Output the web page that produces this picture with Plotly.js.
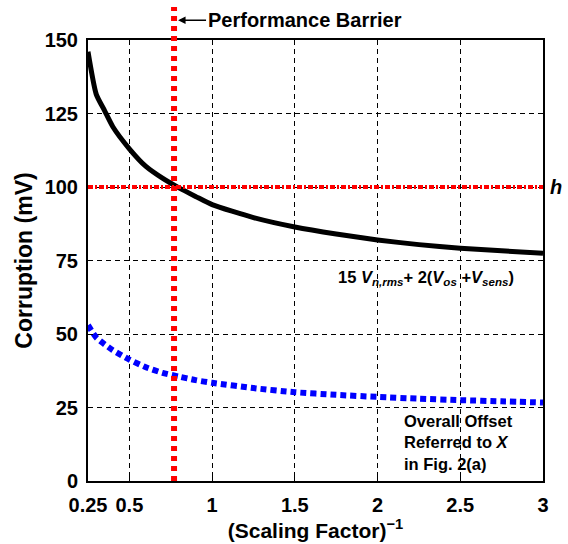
<!DOCTYPE html>
<html>
<head>
<meta charset="utf-8">
<script src="https://cdn.plot.ly/plotly-3.0.1.min.js"></script>
<style>html,body{margin:0;padding:0;background:#fff;}</style>
</head>
<body>
<div id="chart" style="width:568px;height:544px;"></div>
<script>
// ---- data ----
const xBlack = [0.25, 0.3, 0.35, 0.4, 0.5, 0.6, 0.7, 0.8, 0.9, 1, 1.25, 1.5, 1.75, 2, 2.25, 2.5, 2.75, 3];
const yBlack = [146, 131.5, 126, 120.5, 113, 107, 103, 99.7, 96.8, 94, 89.6, 86.4, 84, 82, 80.4, 79.2, 78.3, 77.5];
const xBlue = [0.25, 0.3, 0.35, 0.4, 0.5, 0.6, 0.7, 0.8, 0.9, 1, 1.25, 1.5, 1.75, 2, 2.25, 2.5, 2.75, 3];
const yBlue = [53, 48.8, 46.5, 44.5, 41.3, 38.7, 36.8, 35.5, 34.3, 33.4, 31.6, 30.2, 29.3, 28.6, 28, 27.5, 27.1, 26.7];
const barrierX = 0.77;   // Performance Barrier
const thresholdH = 100;  // h
const xTickVals = [0.25, 0.5, 1, 1.5, 2, 2.5, 3];
const xTickText = ['0.25', '0.5', '1', '1.5', '2', '2.5', '3'];
const yTickVals = [0, 25, 50, 75, 100, 125, 150];

const FONT = 'Liberation Sans, Arial, Helvetica, sans-serif';

const traces = [
  {x: xBlack, y: yBlack, mode: 'lines', line: {color: '#000', width: 5, shape: 'spline', smoothing: 0.6}, hoverinfo: 'skip'},
  {x: xBlue, y: yBlue, mode: 'lines', line: {color: '#0000ff', width: 6, dash: '6px,4px', shape: 'spline', smoothing: 0.6}, hoverinfo: 'skip'}
];

const layout = {
  width: 568, height: 544,
  margin: {l: 88, r: 25, t: 40, b: 63},
  paper_bgcolor: '#fff', plot_bgcolor: '#fff',
  showlegend: false,
  font: {family: FONT, color: '#000', size: 20, weight: 'bold'},
  xaxis: {
    range: [0.25, 3], tickvals: xTickVals, ticktext: xTickText,
    showline: true, linecolor: '#000', linewidth: 2, mirror: 'ticks',
    ticks: 'inside', ticklen: 5, tickcolor: '#000', ticklabelstandoff: 5,
    showgrid: true, gridcolor: '#000', gridwidth: 1, griddash: '5px,4px',
    zeroline: false,
    tickfont: {family: FONT, size: 20, weight: 'bold', color: '#000'},
    title: {text: '(Scaling Factor)<sup>−1</sup>', font: {family: FONT, size: 21, weight: 'bold'}, standoff: 5},
    automargin: false
  },
  yaxis: {
    range: [0, 150], tickvals: yTickVals,
    showline: true, linecolor: '#000', linewidth: 2, mirror: 'ticks',
    ticks: 'inside', ticklen: 5, tickcolor: '#000', ticklabelstandoff: 4,
    showgrid: true, gridcolor: '#000', gridwidth: 1, griddash: '5px,4px',
    zeroline: false,
    tickfont: {family: FONT, size: 20, weight: 'bold', color: '#000'},
    title: {text: 'Corruption (mV)', font: {family: FONT, size: 23, weight: 'bold'}, standoff: 6},
    automargin: false
  },
  shapes: [
    {type: 'line', xref: 'x', yref: 'paper', x0: barrierX, x1: barrierX, y0: 0, y1: 1.075,
     line: {color: '#ff0000', width: 6, dash: '5px,5px'}},
    {type: 'line', xref: 'paper', yref: 'y', x0: 0, x1: 1, y0: thresholdH, y1: thresholdH,
     line: {color: '#ff0000', width: 4, dash: '5px,2px,2px,2px'}}
  ],
  annotations: [
    {xref: 'x', yref: 'paper', x: barrierX, y: 1.045, ax: 32, ay: 0, axref: 'pixel', ayref: 'pixel',
     xanchor: 'left', yanchor: 'middle',
     text: 'Performance Barrier', showarrow: true, arrowhead: 2, arrowsize: 1, arrowwidth: 1.5, arrowcolor: '#000',
     standoff: 4, font: {family: FONT, size: 20, weight: 'bold', color: '#000'}},
    {xref: 'paper', yref: 'y', x: 1.012, y: thresholdH, xanchor: 'left', yanchor: 'middle', showarrow: false,
     text: '<i>h</i>', font: {family: FONT, size: 20, weight: 'bold', color: '#000'}},
    {xref: 'x', yref: 'y', x: 2.29, y: 69, xanchor: 'center', yanchor: 'middle', showarrow: false,
     text: '15 <i>V</i><sub><i>n,rms</i></sub>+ 2(<i>V</i><sub><i>os</i></sub> +<i>V</i><sub><i>sens</i></sub>)',
     font: {family: FONT, size: 16.5, weight: 'bold', color: '#000'}},
    {xref: 'x', yref: 'y', x: 2.15, y: 13.2, xanchor: 'left', yanchor: 'middle', align: 'left', showarrow: false,
     text: 'Overall Offset<br>Referred to <i>X</i><br>in Fig. 2(a)',
     font: {family: FONT, size: 16.5, weight: 'bold', color: '#000'}}
  ]
};

Plotly.newPlot('chart', traces, layout, {staticPlot: true, displayModeBar: false});
</script>
</body>
</html>
